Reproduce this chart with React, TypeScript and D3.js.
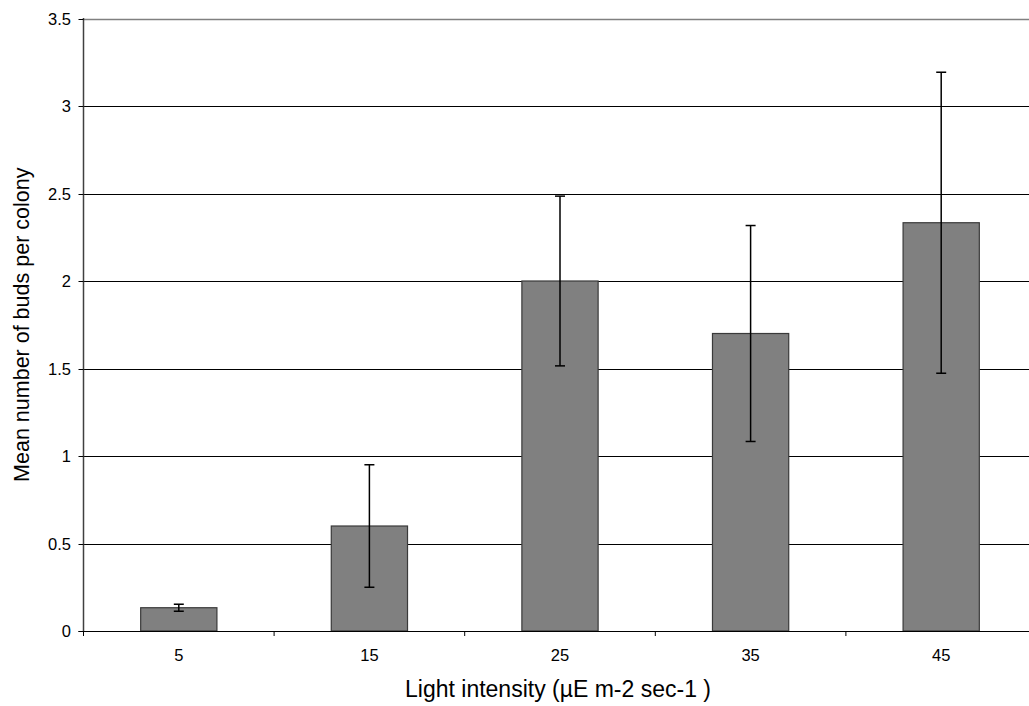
import React, { useRef, useEffect } from 'react';
import * as d3 from 'd3';

const categories = ['5', '15', '25', '35', '45'];
const means = [0.133, 0.6, 2.0, 1.7, 2.333];
const errors = [0.02, 0.35, 0.485, 0.617, 0.86];
const yTicks = [0, 0.5, 1, 1.5, 2, 2.5, 3, 3.5];

const App: React.FC = () => {
  const svgRef = useRef<SVGSVGElement>(null);

  useEffect(() => {
    if (!svgRef.current) return;
    const svg = d3.select(svgRef.current);
    svg.selectAll('*').remove();

    const left = 83.5;
    const right = 1036.5;
    const top = 18.5;
    const bottom = 631;
    const font = 'Liberation Sans, Arial, sans-serif';

    const x = d3.scaleBand().domain(categories).range([left, right]).paddingInner(0).paddingOuter(0);
    const y = d3.scaleLinear().domain([0, 3.5]).range([bottom, top]);
    const bw = x.bandwidth() * 0.4;

    // Grid lines
    svg.append('g')
      .selectAll('line')
      .data(yTicks.filter(t => t > 0))
      .join('line')
      .attr('x1', left)
      .attr('x2', right)
      .attr('y1', d => Math.round(y(d)) + 0.5)
      .attr('y2', d => Math.round(y(d)) + 0.5)
      .style('stroke', d => (d === 3.5 ? '#808080' : '#000'))
      .style('stroke-width', d => (d === 3.5 ? 1.5 : 1));

    // Bars
    svg.append('g')
      .selectAll('rect')
      .data(categories)
      .join('rect')
      .attr('x', (d) => x(d)! + x.bandwidth() / 2 - bw / 2)
      .attr('y', (d, i) => y(means[i]))
      .attr('width', bw)
      .attr('height', (d, i) => bottom - y(means[i]))
      .style('fill', '#808080')
      .style('stroke', '#3a3a3a')
      .style('stroke-width', 1.2);

    // Error bars
    const eb = svg.append('g').style('stroke', '#000').style('stroke-width', 1.5);
    categories.forEach((c, i) => {
      const cx = x(c)! + x.bandwidth() / 2;
      const hi = y(means[i] + errors[i]);
      const lo = y(means[i] - errors[i]);
      eb.append('line').attr('x1', cx).attr('x2', cx).attr('y1', hi).attr('y2', lo);
      [hi, lo].forEach(v => {
        eb.append('line').attr('x1', cx - 5).attr('x2', cx + 5).attr('y1', v).attr('y2', v);
      });
    });

    // Y axis
    svg.append('line')
      .attr('x1', left).attr('x2', left).attr('y1', top - 0.5).attr('y2', bottom)
      .style('stroke', '#404040').style('stroke-width', 1.5);
    const yAxis = svg.append('g');
    yTicks.forEach(t => {
      const yy = Math.round(y(t)) + 0.5;
      yAxis.append('line').attr('x1', left - 5).attr('x2', left).attr('y1', yy).attr('y2', yy)
        .style('stroke', '#000');
      yAxis.append('text')
        .attr('x', 71)
        .attr('y', yy)
        .attr('dy', '0.35em')
        .attr('text-anchor', 'end')
        .style('font-family', font)
        .style('font-size', '16.5px')
        .style('fill', '#000')
        .text(String(t));
    });

    // X axis
    svg.append('line')
      .attr('x1', left - 5).attr('x2', right).attr('y1', bottom + 0.5).attr('y2', bottom + 0.5)
      .style('stroke', '#000').style('stroke-width', 1.2);
    const xAxis = svg.append('g');
    const bounds = categories.map(c => x(c)!).concat([right]);
    bounds.forEach(b => {
      xAxis.append('line').attr('x1', b).attr('x2', b).attr('y1', bottom).attr('y2', bottom + 5)
        .style('stroke', '#000');
    });
    categories.forEach(c => {
      xAxis.append('text')
        .attr('x', x(c)! + x.bandwidth() / 2)
        .attr('y', 661)
        .attr('text-anchor', 'middle')
        .style('font-family', font)
        .style('font-size', '16.5px')
        .style('fill', '#000')
        .text(c);
    });

    // Axis titles
    svg.append('text')
      .attr('x', 558)
      .attr('y', 697)
      .attr('text-anchor', 'middle')
      .style('font-family', font)
      .style('font-size', '23px')
      .style('fill', '#000')
      .text('Light intensity (µE m-2 sec-1 )');

    svg.append('text')
      .attr('transform', `translate(29,${(top + bottom) / 2}) rotate(-90)`)
      .attr('text-anchor', 'middle')
      .style('font-family', font)
      .style('font-size', '21.5px')
      .style('fill', '#000')
      .text('Mean number of buds per colony');
  }, []);

  return (
    <svg
      ref={svgRef}
      width={1029}
      height={706}
      style={{ position: 'absolute', left: 0, top: 0, background: '#fff' }}
    />
  );
};

export default App;
